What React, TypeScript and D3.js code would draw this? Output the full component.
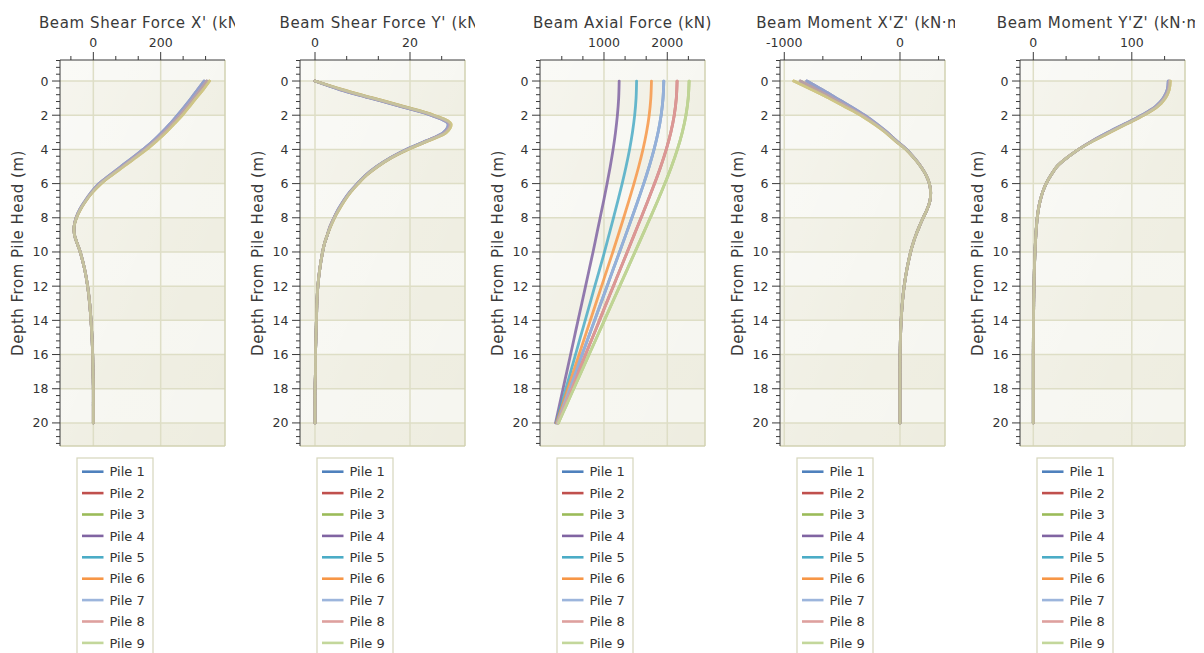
import React from 'react';
import * as d3 from 'd3';

// ---------- DATA ----------
const PILES = ['Pile 1', 'Pile 2', 'Pile 3', 'Pile 4', 'Pile 5', 'Pile 6', 'Pile 7', 'Pile 8', 'Pile 9'];
const PILE_COLORS = ['#4f81bd', '#c0504d', '#9bbb59', '#8064a2', '#4bacc6', '#f79646', '#9cb5dc', '#dea09e', '#c3d79b'];

const depthsFine = [0, 0.5, 1, 1.5, 2, 2.5, 3, 3.5, 4, 4.5, 5, 5.5, 6, 6.5, 7, 7.5, 8, 8.5, 9, 9.5, 10, 11, 12, 13, 14, 15, 16, 17, 18, 19, 20];
const depthsUnit = [0, 1, 2, 3, 4, 5, 6, 7, 8, 9, 10, 11, 12, 13, 14, 15, 16, 17, 18, 19, 20];

const depthMajorTicks = [0, 2, 4, 6, 8, 10, 12, 14, 16, 18, 20];

// Beam Shear Force X' (kN) – three groups of piles
const shearX_A = [329, 310, 291, 271, 250, 228, 204, 178, 148, 116, 82, 49, 17, -6, -24, -40, -51, -57, -56, -48, -39, -26, -17, -11, -7, -4, -2, -1, 0, 0, 0];
const shearX_B = [337, 318, 298, 278, 257, 234, 210, 183, 153, 120, 86, 52, 20, -4, -23, -39, -51, -57, -56, -48, -39, -26, -17, -11, -7, -4, -2, -1, 0, 0, 0];
const shearX_C = [345, 326, 305, 285, 264, 240, 216, 188, 158, 124, 90, 55, 23, -2, -22, -38, -50, -57, -56, -48, -39, -26, -17, -11, -7, -4, -2, -1, 0, 0, 0];
const shearXMajor = [0, 200];
const shearXMinor = [-66.67, 66.67, 133.33, 266.67, 333.33];

// Beam Shear Force Y' (kN)
const shearY_A = [0, 5.2, 11.7, 18.2, 24.4, 28.0, 27.1, 23.4, 19.2, 15.8, 13.0, 10.7, 8.9, 7.3, 6.0, 4.9, 4.0, 3.2, 2.6, 2.0, 1.6, 1.0, 0.6, 0.4, 0.3, 0.2, 0.1, 0.1, 0, 0, 0];
const shearY_B = [0, 5.5, 12.0, 18.5, 24.7, 28.3, 27.4, 23.6, 19.4, 15.9, 13.1, 10.8, 9.0, 7.4, 6.1, 5.0, 4.0, 3.2, 2.6, 2.0, 1.6, 1.0, 0.6, 0.4, 0.3, 0.2, 0.1, 0.1, 0, 0, 0];
const shearY_C = [0, 5.8, 12.3, 18.8, 25.0, 28.6, 27.7, 23.8, 19.6, 16.0, 13.2, 10.9, 9.1, 7.5, 6.2, 5.1, 4.1, 3.3, 2.6, 2.0, 1.6, 1.0, 0.6, 0.4, 0.3, 0.2, 0.1, 0.1, 0, 0, 0];
const shearYMajor = [0, 20];
const shearYMinor = [6.67, 13.33, 26.67];

// Beam Axial Force (kN) – piles 1/7, 2/8, 3/9 coincide
const axialPile1 = [1945, 1933, 1903, 1855, 1791, 1714, 1628, 1536, 1441, 1344, 1246, 1147, 1049, 950, 852, 753, 654, 556, 457, 359, 260];
const axialPile2 = [2155, 2143, 2110, 2056, 1984, 1897, 1799, 1694, 1586, 1477, 1368, 1258, 1148, 1038, 929, 819, 709, 599, 490, 380, 270];
const axialPile3 = [2345, 2331, 2295, 2237, 2160, 2067, 1962, 1849, 1731, 1611, 1490, 1369, 1248, 1127, 1006, 885, 764, 643, 522, 401, 280];
const axialPile4 = [1240, 1232, 1212, 1182, 1144, 1099, 1049, 995, 939, 883, 827, 768, 709, 650, 590, 531, 472, 413, 353, 294, 235];
const axialPile5 = [1515, 1507, 1485, 1450, 1404, 1349, 1287, 1220, 1150, 1079, 1008, 932, 855, 779, 703, 626, 550, 474, 398, 321, 245];
const axialPile6 = [1750, 1740, 1714, 1672, 1616, 1549, 1474, 1394, 1311, 1226, 1140, 1051, 962, 873, 784, 695, 606, 517, 428, 339, 250];
const axialMajor = [1000, 2000];
const axialMinor = [333.3, 666.7, 1333.3, 1666.7, 2333.3];

// Beam Moment X'Z' (kN·m)
const momentXZ_A = [-805, -675, -550, -424, -306, -202, -110, -30, 57, 123, 180, 225, 254, 265, 259, 235, 200, 168, 138, 113, 92, 60, 36, 20, 10, 4, 1, 0, 0, 0, 0];
const momentXZ_B = [-862, -720, -582, -450, -322, -214, -117, -35, 55, 122, 180, 225, 254, 265, 259, 235, 200, 168, 138, 113, 92, 60, 36, 20, 10, 4, 1, 0, 0, 0, 0];
const momentXZ_C = [-918, -764, -615, -476, -339, -226, -125, -40, 52, 120, 179, 225, 254, 265, 259, 235, 200, 168, 138, 113, 92, 60, 36, 20, 10, 4, 1, 0, 0, 0, 0];
const momentXZMajor = [-1000, 0];
const momentXZMinor = [-666.7, -333.3, 333.3];

// Beam Moment Y'Z' (kN·m)
const momentYZ_A = [137, 136, 132, 124, 110, 93, 76, 60, 46, 34, 24, 18, 13, 9.5, 7, 5.2, 4, 3.2, 2.6, 2.1, 1.7, 1.1, 0.7, 0.4, 0.2, 0.1, 0, 0, 0, 0, 0];
const momentYZ_B = [138, 137, 133, 125, 111, 94, 77, 60, 46, 34, 24, 18, 13, 9.5, 7, 5.2, 4, 3.2, 2.6, 2.1, 1.7, 1.1, 0.7, 0.4, 0.2, 0.1, 0, 0, 0, 0, 0];
const momentYZ_C = [139, 138, 134, 126, 112, 95, 78, 61, 46, 34, 24, 18, 13, 9.5, 7, 5.2, 4, 3.2, 2.6, 2.1, 1.7, 1.1, 0.7, 0.4, 0.2, 0.1, 0, 0, 0, 0, 0];
const momentYZMajor = [0, 100];
const momentYZMinor = [33.3, 66.7, 133.3];

const TITLES = ["Beam Shear Force X' (kN)", "Beam Shear Force Y' (kN)", 'Beam Axial Force (kN)', "Beam Moment X'Z' (kN·m)", "Beam Moment Y'Z' (kN·m)"];
const X_DOMAINS: [number, number][] = [[-99, 391], [-3.16, 31.58], [-11, 2596], [-1037, 389], [-13.5, 154]];
const LINE_OPACITY = [0.6, 0.6, 0.85, 0.6, 0.6];

const panels = [
  { depths: depthsFine, major: shearXMajor, minor: shearXMinor, series: [shearX_A, shearX_B, shearX_C, shearX_A, shearX_B, shearX_C, shearX_A, shearX_B, shearX_C] },
  { depths: depthsFine, major: shearYMajor, minor: shearYMinor, series: [shearY_A, shearY_B, shearY_C, shearY_A, shearY_B, shearY_C, shearY_A, shearY_B, shearY_C] },
  { depths: depthsUnit, major: axialMajor, minor: axialMinor, series: [axialPile1, axialPile2, axialPile3, axialPile4, axialPile5, axialPile6, axialPile1, axialPile2, axialPile3] },
  { depths: depthsFine, major: momentXZMajor, minor: momentXZMinor, series: [momentXZ_A, momentXZ_B, momentXZ_C, momentXZ_A, momentXZ_B, momentXZ_C, momentXZ_A, momentXZ_B, momentXZ_C] },
  { depths: depthsFine, major: momentYZMajor, minor: momentYZMinor, series: [momentYZ_A, momentYZ_B, momentYZ_C, momentYZ_A, momentYZ_B, momentYZ_C, momentYZ_A, momentYZ_B, momentYZ_C] },
];

// ---------- LAYOUT ----------
const W = 1204;
const H = 653;
const PANEL_W = 240;
const PL = 60, PR = 225, PT = 60, PB = 446;
const FONT = "'DejaVu Sans', Verdana, sans-serif";
const TEXT = '#333';

const yScale = d3.scaleLinear().domain([-1.23, 21.35]).range([PT, PB]);
const depthMinorTicks = d3.range(-1.2, 21.3, 0.4).filter((d) => Math.abs(d / 2 - Math.round(d / 2)) > 0.01);
const bandEdges = [-1.23, 0, 2, 4, 6, 8, 10, 12, 14, 16, 18, 20, 21.35];

function Panel({ index }: { index: number }) {
  const p = panels[index];
  const ox = index * PANEL_W;
  const x = d3.scaleLinear().domain(X_DOMAINS[index]).range([ox + PL, ox + PR]);
  const cx = ox + (PL + PR) / 2;
  return (
    <g>
      <defs>
        <clipPath id={`tclip${index}`}>
          <rect x={ox} y={0} width={235} height={PT} />
        </clipPath>
        <clipPath id={`pclip${index}`}>
          <rect x={ox + PL} y={PT} width={PR - PL} height={PB - PT} />
        </clipPath>
      </defs>
      {/* background bands */}
      {bandEdges.slice(0, -1).map((b, i) => (
        <rect key={i} x={ox + PL} y={yScale(b)} width={PR - PL} height={yScale(bandEdges[i + 1]) - yScale(b)}
          fill={i % 2 === 1 ? '#eeede0' : '#f6f6f0'} />
      ))}
      <rect x={ox + PL} y={PT} width={PR - PL} height={PB - PT} fill="url(#sheen)" />
      {/* grid */}
      {depthMajorTicks.map((d) => (
        <line key={d} x1={ox + PL} x2={ox + PR} y1={yScale(d)} y2={yScale(d)} stroke="#dedec6" strokeWidth={1.5} />
      ))}
      {p.major.map((v) => (
        <line key={v} x1={x(v)} x2={x(v)} y1={PT} y2={PB} stroke="#dedec6" strokeWidth={1.5} />
      ))}
      {/* border */}
      <line x1={ox + PR} x2={ox + PR} y1={PT} y2={PB} stroke="#d2d2b2" strokeWidth={1.5} />
      <line x1={ox + PL} x2={ox + PR} y1={PB} y2={PB} stroke="#d2d2b2" strokeWidth={1.5} />
      {/* series */}
      <g clipPath={`url(#pclip${index})`}>
        {p.series.map((vals, si) => {
          const line = d3.line<number>()
            .x((v) => x(v))
            .y((_, i) => yScale(p.depths[i]))
            .curve(d3.curveCatmullRom.alpha(0.5));
          return (
            <path key={si} d={line(vals) || ''} fill="none" stroke={PILE_COLORS[si]} strokeWidth={2.8}
              strokeOpacity={LINE_OPACITY[index]} strokeLinejoin="round" strokeLinecap="round" />
          );
        })}
      </g>
      {/* axes */}
      <line x1={ox + PL} x2={ox + PR} y1={PT} y2={PT} stroke="#3a3a3a" strokeWidth={1} />
      <line x1={ox + PL} x2={ox + PL} y1={PT} y2={PB} stroke="#3a3a3a" strokeWidth={1} />
      {p.major.map((v) => (
        <g key={v}>
          <line x1={x(v)} x2={x(v)} y1={PT} y2={PT - 8} stroke="#3a3a3a" />
          <text x={x(v)} y={46.5} textAnchor="middle" fontSize={12.5} fontFamily={FONT} fill={TEXT}>{v}</text>
        </g>
      ))}
      {p.minor.map((v) => (
        <line key={v} x1={x(v)} x2={x(v)} y1={PT} y2={PT - 4} stroke="#3a3a3a" />
      ))}
      {depthMajorTicks.map((d) => (
        <g key={d}>
          <line x1={ox + PL} x2={ox + PL - 8} y1={yScale(d)} y2={yScale(d)} stroke="#3a3a3a" />
          <text x={ox + 48.5} y={yScale(d) + 4.5} textAnchor="end" fontSize={12.5} fontFamily={FONT} fill={TEXT}>{d}</text>
        </g>
      ))}
      {depthMinorTicks.map((d, i) => (
        <line key={i} x1={ox + PL} x2={ox + PL - 4} y1={yScale(d)} y2={yScale(d)} stroke="#3a3a3a" />
      ))}
      {/* titles */}
      <text x={cx} y={27.5} textAnchor="middle" fontSize={15} letterSpacing={0.6} fontFamily={FONT} fill="#3a3a3a"
        clipPath={`url(#tclip${index})`}>{TITLES[index]}</text>
      <text transform={`translate(${ox + 23},${(PT + PB) / 2}) rotate(-90)`} textAnchor="middle" fontSize={15}
        letterSpacing={0.5} fontFamily={FONT} fill="#3a3a3a">Depth From Pile Head (m)</text>
      {/* legend */}
      <rect x={ox + 77} y={458} width={76} height={215} fill="#ffffff" stroke="#d6d6bc" strokeWidth={1.2} />
      {PILES.map((name, i) => {
        const ly = 471.7 + i * 21.4;
        return (
          <g key={name}>
            <line x1={ox + 82} x2={ox + 103.5} y1={ly} y2={ly} stroke={PILE_COLORS[i]} strokeWidth={2.6} />
            <text x={ox + 109.5} y={ly + 4.6} fontSize={13} fontFamily={FONT} fill={TEXT}>{name}</text>
          </g>
        );
      })}
    </g>
  );
}

export default function App() {
  return (
    <svg width={W} height={H} viewBox={`0 0 ${W} ${H}`} style={{ position: 'absolute', left: 0, top: 0, background: '#ffffff' }}>
      <defs>
        <linearGradient id="sheen" x1="0" y1="0" x2="1" y2="1">
          <stop offset="0" stopColor="#ffffff" stopOpacity={0.45} />
          <stop offset="0.6" stopColor="#ffffff" stopOpacity={0.1} />
          <stop offset="1" stopColor="#ffffff" stopOpacity={0} />
        </linearGradient>
      </defs>
      <rect x={0} y={0} width={W} height={H} fill="#ffffff" />
      {panels.map((_, i) => <Panel key={i} index={i} />)}
    </svg>
  );
}
